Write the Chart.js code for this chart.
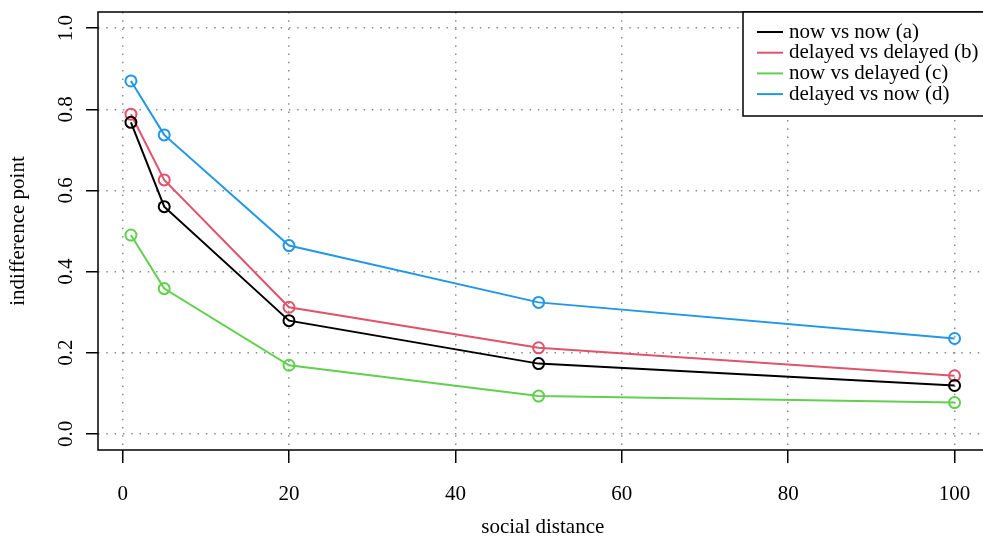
<!DOCTYPE html>
<html>
<head>
<meta charset="utf-8">
<script src="https://cdn.jsdelivr.net/npm/chart.js@4"></script>
<style>
  html, body { margin: 0; padding: 0; overflow: hidden; background: #fff; }
  #wrap { width: 995px; height: 540px; }
</style>
</head>
<body>
<div id="wrap"><canvas id="chart" width="995" height="540"></canvas></div>
<script>
// social distance (x) and indifference points per condition
var distances = [1, 5, 20, 50, 100];
var nowNow = [0.768, 0.560, 0.279, 0.173, 0.119];
var delDel = [0.788, 0.626, 0.312, 0.212, 0.143];
var nowDel = [0.490, 0.358, 0.169, 0.093, 0.077];
var delNow = [0.870, 0.737, 0.464, 0.324, 0.235];

var seriesLabels = ["now vs now (a)", "delayed vs delayed (b)", "now vs delayed (c)", "delayed vs now (d)"];
var seriesColors = ["#000000", "#DF536B", "#61D04F", "#2297E6"];
var xTicks = [0, 20, 40, 60, 80, 100];
var yTicks = [0, 0.2, 0.4, 0.6, 0.8, 1.0];
var yTickLabels = ["0.0", "0.2", "0.4", "0.6", "0.8", "1.0"];

var FONT = "Liberation Serif";
var FSIZE = 21;

function pts(vals) {
  return distances.map(function (d, i) { return { x: d, y: vals[i] }; });
}

var datasets = [nowNow, delDel, nowDel, delNow].map(function (vals, i) {
  return {
    label: seriesLabels[i],
    data: pts(vals),
    borderColor: seriesColors[i],
    backgroundColor: "rgba(0,0,0,0)",
    borderWidth: 2,
    pointRadius: 5.5,
    pointBorderWidth: 2,
    pointBackgroundColor: "rgba(0,0,0,0)",
    pointBorderColor: seriesColors[i],
    tension: 0,
  };
});

var rPlot = {
  id: "rPlot",
  afterDraw: function (chart) {
    var c = chart.ctx, a = chart.chartArea, ys = chart.scales.y;
    c.save();
    // y tick labels, rotated like base R
    c.fillStyle = "#000";
    c.font = FSIZE + "px '" + FONT + "'";
    c.textAlign = "center";
    c.textBaseline = "middle";
    yTicks.forEach(function (v, i) {
      var py = ys.getPixelForValue(v);
      c.save();
      c.translate(66, py);
      c.rotate(-Math.PI / 2);
      c.fillText(yTickLabels[i], 0, 0);
      c.restore();
    });
    // plot box
    c.strokeStyle = "#000";
    c.lineWidth = 1.5;
    c.strokeRect(a.left, a.top, a.right - a.left, a.bottom - a.top);
    // legend (topright)
    var lx = 743, ly = a.top, lw = a.right - lx, lh = 104;
    c.fillStyle = "#fff";
    c.fillRect(lx, ly, lw, lh);
    c.strokeRect(lx, ly, lw, lh);
    c.textAlign = "left";
    seriesLabels.forEach(function (t, i) {
      var yy = ly + 20 + i * 20.7;
      c.strokeStyle = seriesColors[i];
      c.lineWidth = 2;
      c.beginPath();
      c.moveTo(757, yy);
      c.lineTo(783, yy);
      c.stroke();
      c.fillStyle = "#000";
      c.fillText(t, 789, yy);
    });
    c.restore();
  }
};

var gridOpts = {
  color: "#8c8c8c",
  lineWidth: 1.5,
  tickColor: "#000",
  tickWidth: 1.5,
  tickBorderDash: [],
};

new Chart(document.getElementById("chart").getContext("2d"), {
  type: "line",
  data: { datasets: datasets },
  plugins: [rPlot],
  options: {
    responsive: false,
    animation: false,
    layout: { padding: { top: 12, right: 5, left: 0, bottom: 0 } },
    plugins: { legend: { display: false }, tooltip: { enabled: false } },
    scales: {
      x: {
        type: "linear",
        min: -2.96,
        max: 103.96,
        afterBuildTicks: function (s) { s.ticks = xTicks.map(function (v) { return { value: v }; }); },
        afterFit: function (s) { s.height = 90; },
        border: { display: false, dash: [1.5, 6.8] },
        grid: Object.assign({ tickLength: 13 }, gridOpts),
        ticks: {
          color: "#000",
          font: { family: FONT, size: FSIZE },
          padding: 19,
          maxRotation: 0,
        },
        title: {
          display: true,
          text: "social distance",
          color: "#000",
          font: { family: FONT, size: FSIZE },
          padding: { top: 0, bottom: 0 },
        },
      },
      y: {
        type: "linear",
        min: -0.04,
        max: 1.04,
        afterBuildTicks: function (s) { s.ticks = yTicks.map(function (v) { return { value: v }; }); },
        afterFit: function (s) { s.width = 98; },
        border: { display: false, dash: [1.5, 6.8] },
        grid: Object.assign({ tickLength: 12 }, gridOpts),
        ticks: { display: false },
        title: {
          display: true,
          text: "indifference point",
          color: "#000",
          font: { family: FONT, size: FSIZE },
          padding: { top: 6, bottom: 0 },
        },
      },
    },
  },
});
</script>
</body>
</html>
